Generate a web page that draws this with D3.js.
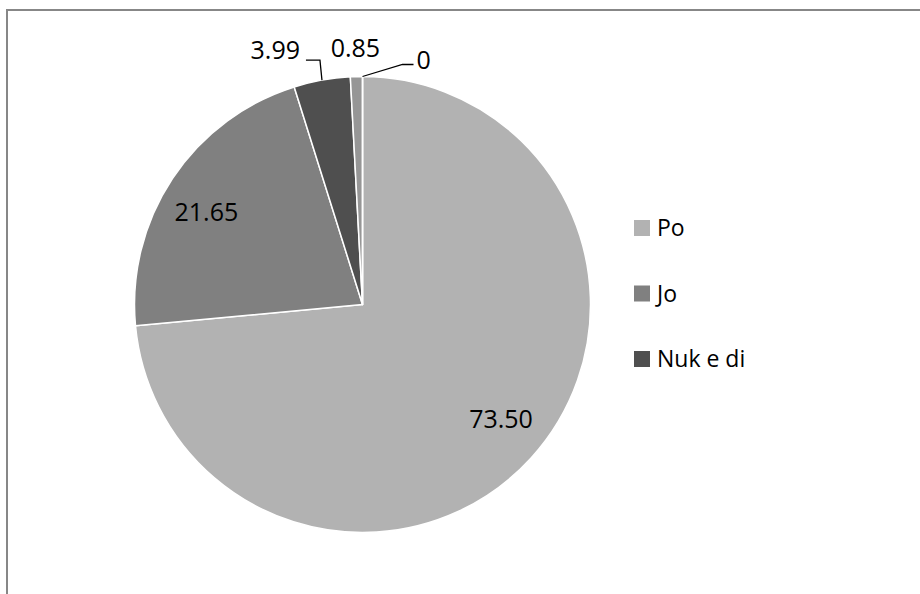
<!DOCTYPE html>
<html>
<head>
<meta charset="utf-8">
<script src="https://cdn.jsdelivr.net/npm/d3@7"></script>
<style>
  html, body { margin: 0; padding: 0; background: #fff; }
  svg { display: block; }
  text { font-family: "Open Sans", "Noto Sans", sans-serif; fill: #000; }
</style>
</head>
<body>
<script>
// Survey answers: share of respondents per answer (percent)
const categories = ["Po", "Jo", "Nuk e di", "", ""];
const values = [73.50, 21.65, 3.99, 0.85, 0];
const valueLabels = ["73.50", "21.65", "3.99", "0.85", "0"];
const sliceColors = ["#b2b2b2", "#808080", "#4f4f4f", "#969696", "#a0a0a0"];

const W = 920, H = 594;
const cx = 362.5, cy = 304.5, R = 228;

const svg = d3.select("body").append("svg")
  .attr("width", W).attr("height", H);

// chart area frame (only the top and left edges fall inside the view)
svg.append("rect")
  .attr("x", 7).attr("y", 10)
  .attr("width", 1200).attr("height", 1200)
  .attr("fill", "none")
  .attr("stroke", "#878787")
  .attr("stroke-width", 2);

const data = values.map((v, i) => ({
  name: categories[i], value: v, label: valueLabels[i], color: sliceColors[i]
}));

const pie = d3.pie().value(d => d.value).sort(null);
const arcs = pie(data);

const arc = d3.arc().innerRadius(0).outerRadius(R);
const labelArc = d3.arc().innerRadius(R * 0.78).outerRadius(R * 0.78);
const edgeArc = d3.arc().innerRadius(R).outerRadius(R);

const g = svg.append("g").attr("transform", `translate(${cx},${cy})`);

g.selectAll("path.slice")
  .data(arcs)
  .join("path")
  .attr("class", "slice")
  .attr("d", arc)
  .attr("fill", d => d.data.color)
  .attr("stroke", "#fff")
  .attr("stroke-width", 1.5)
  .attr("stroke-linejoin", "round");

// label placement: inside labels are nudged from the centroid,
// outside labels hang off a leader line (or sit just above the rim)
const placement = [
  { mode: "in", dx: 7, dy: -5 },
  { mode: "in", dx: -8, dy: 6 },
  { mode: "leader", elbow: [-2, -20], tail: -14, anchor: "end", gap: -6, dy: -10 },
  { mode: "free", dx: -1, dy: -28.5 },
  { mode: "leader", elbow: [40, -12], tail: 11, anchor: "start", gap: 3, dy: -4.5 }
];

const labelSize = 25;

arcs.forEach((a, i) => {
  const p = placement[i];
  if (p.mode === "in") {
    const [x, y] = labelArc.centroid(a);
    g.append("text")
      .attr("x", x + p.dx).attr("y", y + p.dy)
      .attr("dy", "0.36em")
      .attr("text-anchor", "middle")
      .attr("font-size", labelSize)
      .text(a.data.label);
  } else if (p.mode === "free") {
    const [x, y] = edgeArc.centroid(a);
    g.append("text")
      .attr("x", x + p.dx).attr("y", y + p.dy)
      .attr("dy", "0.36em")
      .attr("text-anchor", "middle")
      .attr("font-size", labelSize)
      .text(a.data.label);
  } else {
    const [x0, y0] = edgeArc.centroid(a);
    const x1 = x0 + p.elbow[0], y1 = y0 + p.elbow[1];
    const x2 = x1 + p.tail;
    g.append("polyline")
      .attr("points", [[x0, y0], [x1, y1], [x2, y1]].map(q => q.join(",")).join(" "))
      .attr("fill", "none")
      .attr("stroke", "#000")
      .attr("stroke-width", 1.3);
    g.append("text")
      .attr("x", x2 + p.gap).attr("y", y1 + p.dy)
      .attr("dy", "0.36em")
      .attr("text-anchor", p.anchor)
      .attr("font-size", labelSize)
      .text(a.data.label);
  }
});

// legend (named answers only)
const legendItems = data.filter(d => d.name !== "");
const legend = svg.append("g").attr("transform", "translate(634,220)");
const item = legend.selectAll("g.item")
  .data(legendItems)
  .join("g")
  .attr("class", "item")
  .attr("transform", (d, i) => `translate(0,${i * 65.5})`);
item.append("rect")
  .attr("width", 16).attr("height", 16)
  .attr("fill", d => d.color);
item.append("text")
  .attr("x", 23).attr("y", 8)
  .attr("dy", "0.36em")
  .attr("font-size", 23)
  .text(d => d.name);
</script>
</body>
</html>
